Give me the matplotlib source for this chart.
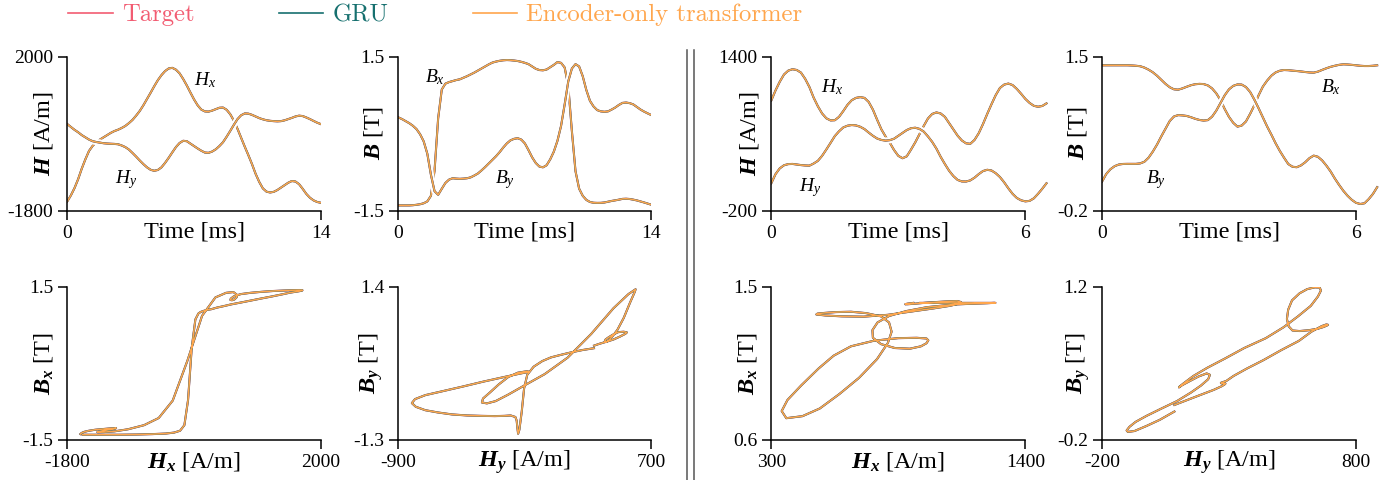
import numpy as np
import matplotlib
matplotlib.use('Agg')
import matplotlib.pyplot as plt
from matplotlib.lines import Line2D

plt.rcParams['font.family'] = ['Liberation Serif', 'DejaVu Serif']
plt.rcParams['mathtext.fontset'] = 'custom'
plt.rcParams['mathtext.rm'] = 'Liberation Serif'
plt.rcParams['mathtext.it'] = 'Liberation Serif:italic'
plt.rcParams['mathtext.bf'] = 'Liberation Serif:bold:italic'
plt.rcParams['axes.unicode_minus'] = False

# case A: 14 ms record, sampled every 0.2 ms
t_a = np.round(np.arange(0, 14.01, 0.2), 2)
hx_a = [-1571, -1420, -1240, -1020, -760, -530, -325, -200, -110, -45,
        10, 65, 120, 165, 198, 240, 290, 360, 440, 545,
        660, 800, 955, 1110, 1270, 1420, 1545, 1645, 1710, 1725,
        1680, 1590, 1450, 1290, 1115, 945, 800, 695, 650, 645,
        670, 705, 740, 745, 690, 580, 420, 220, 0, -220,
        -430, -650, -890, -1090, -1250, -1330, -1350, -1335, -1290, -1230,
        -1170, -1110, -1068, -1080, -1145, -1260, -1385, -1480, -1545, -1585,
        -1604]
hy_a = [337, 265, 195, 135, 65, 10, -45, -85, -105, -120,
        -135, -143, -148, -152, -160, -190, -230, -290, -375, -465,
        -560, -650, -730, -790, -815, -795, -730, -620, -495, -360,
        -230, -130, -75, -85, -145, -205, -265, -320, -365, -372,
        -340, -285, -205, -110, 25, 170, 320, 460, 555, 600,
        595, 565, 525, 485, 455, 432, 418, 410, 405, 410,
        430, 460, 490, 525, 545, 535, 500, 460, 415, 372,
        337]
bx_a = [-1.397, -1.397, -1.397, -1.397, -1.393, -1.385, -1.374, -1.355, -1.319, -1.21,
        -0.72, 0.30, 0.86, 0.975, 1.005, 1.025, 1.045, 1.06, 1.09, 1.12,
        1.155, 1.19, 1.23, 1.27, 1.31, 1.35, 1.385, 1.405, 1.42, 1.43,
        1.435, 1.432, 1.425, 1.416, 1.40, 1.38, 1.355, 1.31, 1.265, 1.24,
        1.235, 1.25, 1.295, 1.34, 1.395, 1.38, 1.29, 0.93, 0.05, -0.73,
        -1.07, -1.21, -1.29, -1.33, -1.345, -1.348, -1.347, -1.34, -1.325, -1.31,
        -1.298, -1.285, -1.27, -1.267, -1.272, -1.285, -1.30, -1.32, -1.34, -1.362,
        -1.384]
by_a = [0.317, 0.285, 0.245, 0.205, 0.155, 0.09, -0.01, -0.15, -0.39, -0.80,
        -1.12, -1.19, -1.073, -0.96, -0.895, -0.868, -0.875, -0.879, -0.875, -0.868,
        -0.85, -0.815, -0.775, -0.715, -0.65, -0.58, -0.51, -0.44, -0.36, -0.27,
        -0.19, -0.13, -0.10, -0.088, -0.115, -0.19, -0.32, -0.46, -0.57, -0.64,
        -0.655, -0.615, -0.50, -0.35, -0.14, 0.15, 0.57, 1.02, 1.27, 1.355,
        1.31, 1.12, 0.85, 0.64, 0.53, 0.46, 0.435, 0.427, 0.435, 0.47,
        0.51, 0.56, 0.60, 0.607, 0.595, 0.57, 0.52, 0.47, 0.43, 0.395,
        0.362]

# case B: 6.5 ms record, sampled every 0.1 ms
t_b = np.round(np.arange(0, 6.51, 0.1), 2)
hx_b = [945, 1050, 1140, 1215, 1255, 1270, 1262, 1235, 1170, 1085,
        975, 885, 810, 760, 738, 740, 775, 835, 900, 948,
        972, 980, 972, 930, 850, 745, 645, 570, 505, 430,
        370, 345, 365, 435, 510, 595, 680, 758, 805, 821,
        810, 775, 710, 645, 580, 530, 500, 495, 535, 605,
        700, 805, 905, 1000, 1075, 1110, 1121, 1105, 1065, 1015,
        962, 920, 890, 880, 888, 915]
hy_b = [85, 180, 240, 272, 284, 286, 280, 274, 270, 268,
        290, 318, 370, 436, 505, 575, 625, 665, 683, 690,
        686, 672, 648, 612, 578, 550, 535, 528, 533, 548,
        578, 608, 638, 657, 662, 650, 622, 572, 515, 445,
        360, 285, 215, 160, 120, 104, 103, 115, 143, 180,
        212, 225, 218, 190, 150, 95, 32, -25, -68, -92,
        -103, -98, -72, -25, 28, 85]
bx_b = [1.405, 1.405, 1.405, 1.405, 1.405, 1.405, 1.405, 1.403, 1.400, 1.395,
        1.38, 1.357, 1.328, 1.29, 1.245, 1.20, 1.163, 1.140, 1.136, 1.150,
        1.168, 1.185, 1.196, 1.20, 1.198, 1.183, 1.15, 1.095, 1.02, 0.921,
        0.835, 0.77, 0.728, 0.74, 0.785, 0.87, 0.965, 1.075, 1.17, 1.236,
        1.29, 1.326, 1.345, 1.353, 1.351, 1.346, 1.342, 1.337, 1.331, 1.326,
        1.324, 1.335, 1.354, 1.372, 1.388, 1.40, 1.41, 1.416, 1.414, 1.41,
        1.405, 1.40, 1.397, 1.397, 1.40, 1.405]
by_b = [0.12, 0.205, 0.258, 0.292, 0.31, 0.316, 0.317, 0.317, 0.317, 0.322,
        0.34, 0.385, 0.452, 0.53, 0.62, 0.705, 0.79, 0.84, 0.855, 0.852,
        0.846, 0.832, 0.815, 0.802, 0.795, 0.80, 0.838, 0.905, 0.99, 1.075,
        1.14, 1.178, 1.194, 1.192, 1.165, 1.11, 1.025, 0.93, 0.83, 0.73,
        0.64, 0.545, 0.46, 0.385, 0.315, 0.285, 0.28, 0.30, 0.335, 0.38,
        0.408, 0.395, 0.355, 0.298, 0.233, 0.155, 0.085, 0.02, -0.035, -0.08,
        -0.113, -0.126, -0.118, -0.072, -0.015, 0.06]

models = ['Target', 'GRU', 'Encoder-only transformer']
colors = ['#f25c72', '#16706f', '#ffa64d']
widths = [1.5, 1.4, 1.1]

W, H = 1395, 480
fig = plt.figure(figsize=(W / 100, H / 100), dpi=100)


def px_axes(left, top, width, height):
    return fig.add_axes([left / W, 1 - (top + height) / H, width / W, height / H])


def style(ax, xt, yt, xlim, ylim):
    ax.set_xlim(*xlim)
    ax.set_ylim(*ylim)
    ax.set_xticks(xt, labels=[f'{v:g}' for v in xt])
    ax.set_yticks(yt, labels=[f'{v:g}' for v in yt])
    for s in ['top', 'right']:
        ax.spines[s].set_visible(False)
    for s in ['left', 'bottom']:
        ax.spines[s].set_linewidth(1.1)
    ax.tick_params(labelsize=14, length=6.5, width=1.1, pad=3.5, direction='out')


def time_panel(ax, t, xs, ys):
    for c, lw in zip(colors, widths):
        ax.plot(t, xs, color=c, lw=lw)
    ax.plot(t, ys, color='white', lw=4.5)
    for c, lw in zip(colors, widths):
        ax.plot(t, ys, color=c, lw=lw)


def loop_panel(ax, hs, bs):
    for c, lw in zip(colors, widths):
        ax.plot(hs, bs, color=c, lw=lw)


def labels(ax, xl, yl, ylx, xlx=0.5, xly=-0.138):
    ax.set_xlabel(xl, fontsize=17.5, va='center')
    ax.set_ylabel(yl, fontsize=17.5, va='center')
    ax.xaxis.set_label_coords(xlx, xly)
    ax.yaxis.set_label_coords(ylx, 0.5)


# top row: time series
ax1 = px_axes(67.3, 56.7, 253.5, 154)
time_panel(ax1, t_a, hx_a, hy_a)
style(ax1, [0, 14], [-1800, 2000], (0, 14), (-1800, 2000))
labels(ax1, 'Time [ms]', r'$\mathbf{H}$ [A/m]', -0.092)
ax1.text(7.6, 1425, r'$H_x$', fontsize=14, ha='center', va='center')
ax1.text(3.24, -1042, r'$H_y$', fontsize=14, ha='center', va='center')

ax2 = px_axes(398.4, 56.7, 253, 154)
time_panel(ax2, t_a, bx_a, by_a)
style(ax2, [0, 14], [-1.5, 1.5], (0, 14), (-1.5, 1.5))
labels(ax2, 'Time [ms]', r'$\mathbf{B}$ [T]', -0.100)
ax2.text(2.03, 1.105, r'$B_x$', fontsize=14, ha='center', va='center')
ax2.text(5.9, -0.902, r'$B_y$', fontsize=14, ha='center', va='center')

ax3 = px_axes(771.3, 56.7, 277.3, 154)
time_panel(ax3, t_b, hx_b, hy_b)
style(ax3, [0, 6], [-200, 1400], (0, 6.55), (-200, 1400))
ax3.spines['bottom'].set_bounds(0, 6)
labels(ax3, 'Time [ms]', r'$\mathbf{H}$ [A/m]', -0.080, xlx=0.458)
ax3.text(1.446, 1080, r'$H_x$', fontsize=14, ha='center', va='center')
ax3.text(0.914, 41, r'$H_y$', fontsize=14, ha='center', va='center')

ax4 = px_axes(1102, 56.7, 277.3, 154)
time_panel(ax4, t_b, bx_b, by_b)
style(ax4, [0, 6], [-0.2, 1.5], (0, 6.55), (-0.2, 1.5))
ax4.spines['bottom'].set_bounds(0, 6)
labels(ax4, 'Time [ms]', r'$\mathbf{B}$ [T]', -0.087, xlx=0.458)
ax4.text(5.41, 1.16, r'$B_x$', fontsize=14, ha='center', va='center')
ax4.text(1.28, 0.139, r'$B_y$', fontsize=14, ha='center', va='center')

# bottom row: B-H loops
ax5 = px_axes(67.3, 286.7, 253.5, 153.3)
loop_panel(ax5, hx_a, bx_a)
style(ax5, [-1800, 2000], [-1.5, 1.5], (-1800, 2000), (-1.5, 1.5))
labels(ax5, r'$\mathbf{H_x}$ [A/m]', r'$\mathbf{B_x}$ [T]', -0.094, xly=-0.143)

ax6 = px_axes(398.4, 286.7, 253, 153.3)
loop_panel(ax6, hy_a, by_a)
style(ax6, [-900, 700], [-1.3, 1.4], (-900, 700), (-1.3, 1.4))
labels(ax6, r'$\mathbf{H_y}$ [A/m]', r'$\mathbf{B_y}$ [T]', -0.108, xly=-0.143)

ax7 = px_axes(771.3, 286.7, 254, 153.3)
loop_panel(ax7, hx_b, bx_b)
style(ax7, [300, 1400], [0.6, 1.5], (300, 1400), (0.6, 1.5))
labels(ax7, r'$\mathbf{H_x}$ [A/m]', r'$\mathbf{B_x}$ [T]', -0.094, xly=-0.143)

ax8 = px_axes(1102, 286.7, 254, 153.3)
loop_panel(ax8, hy_b, by_b)
style(ax8, [-200, 800], [-0.2, 1.2], (-200, 800), (-0.2, 1.2))
labels(ax8, r'$\mathbf{H_y}$ [A/m]', r'$\mathbf{B_y}$ [T]', -0.096, xly=-0.143)

# double separator between the two cases
for x in [687, 694]:
    fig.add_artist(Line2D([x / W, x / W], [0, 1 - 50 / H], transform=fig.transFigure,
                          color='#555555', lw=1.1))

handles = [Line2D([], [], color=c, lw=1.2) for c in colors]
leg = fig.legend(handles, models, loc='center left', bbox_to_anchor=(68 / W, 1 - 15 / H),
                 ncol=3, frameon=False, prop={'family': 'cmr10', 'size': 17.8},
                 handlelength=1.8, handletextpad=0.38, columnspacing=3.4,
                 borderpad=0, borderaxespad=0)
for txt, c in zip(leg.get_texts(), colors):
    txt.set_color(c)

fig.savefig('out.png', dpi=100)
